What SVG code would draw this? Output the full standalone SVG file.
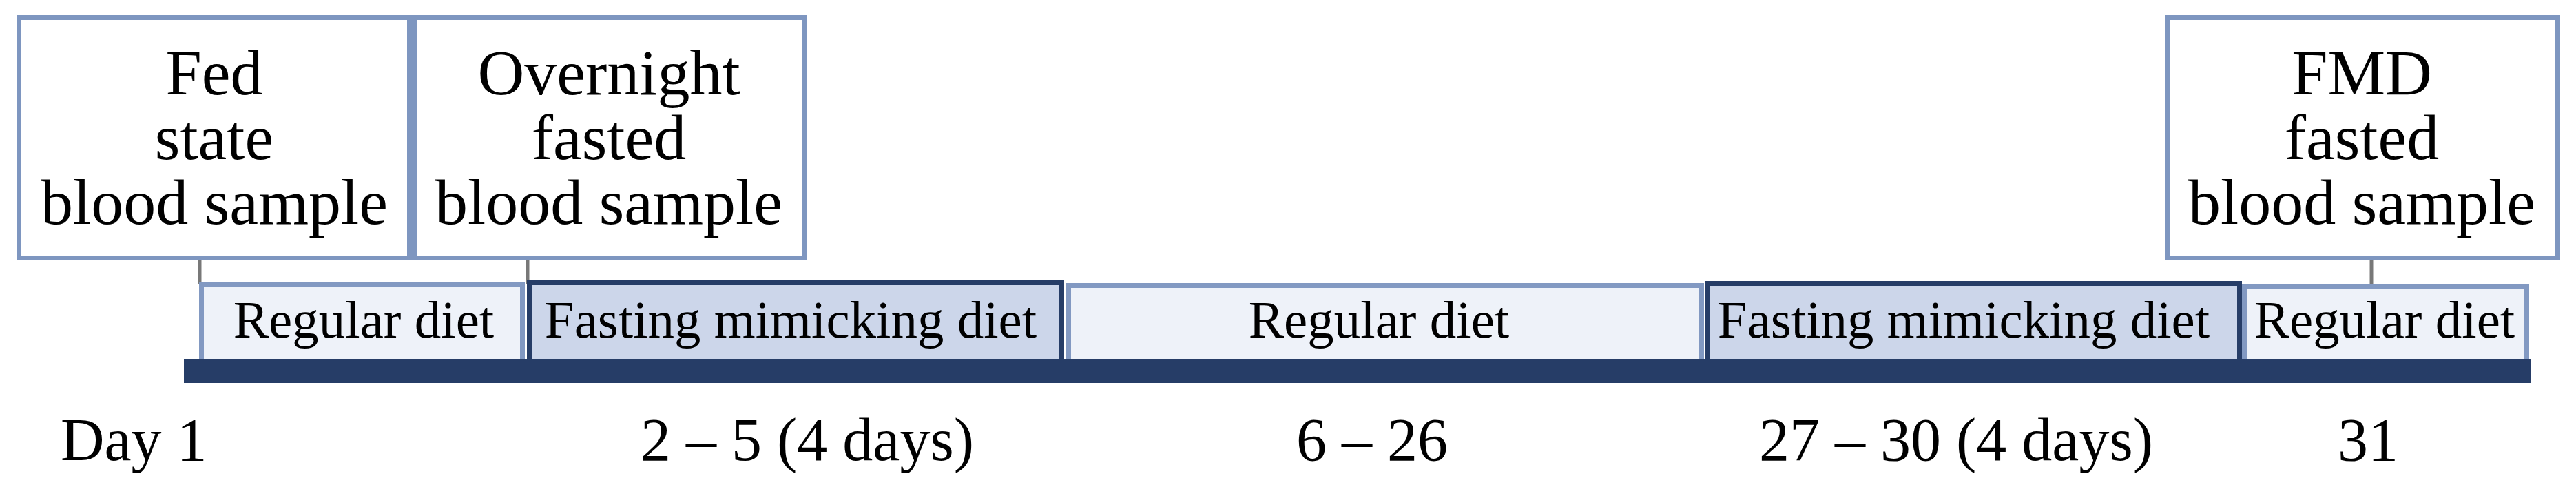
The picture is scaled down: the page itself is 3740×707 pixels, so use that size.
<svg xmlns="http://www.w3.org/2000/svg" width="3740" height="707" viewBox="0 0 3740 707">
<style>
.sample{fill:#ffffff;stroke:#7e96c0;stroke-width:7}
.reg{fill:#eef2f9;stroke:#8299c2;stroke-width:7}
.fmd{fill:#ccd6ea;stroke:#263d67;stroke-width:7}
.conn{stroke:#787878;stroke-width:5;fill:none}
text{font-family:"Liberation Serif","Times New Roman",serif;fill:#000000;text-anchor:middle}
.big{font-size:94px}
.lbl{font-size:77px}
.day{font-size:88px}
</style>
<rect width="3740" height="707" fill="#ffffff"/>
<g id="connectors">
<line class="conn" x1="290" y1="378" x2="290" y2="412"/>
<line class="conn" x1="766" y1="378" x2="766" y2="412"/>
<line class="conn" x1="3443" y1="378" x2="3443" y2="414"/>
</g>
<g id="fed-sample">
<rect class="sample" x="27.5" y="25.5" width="567" height="349"/>
<text class="big" x="311" y="137">Fed</text>
<text class="big" x="311" y="231">state</text>
<text class="big" x="311" y="325">blood sample</text>
</g>
<g id="overnight-sample">
<rect class="sample" x="601.5" y="25.5" width="566" height="349"/>
<text class="big" x="884" y="137">Overnight</text>
<text class="big" x="884" y="231">fasted</text>
<text class="big" x="884" y="325">blood sample</text>
</g>
<g id="fmd-sample">
<rect class="sample" x="3147.5" y="25.5" width="566" height="349"/>
<text class="big" x="3429" y="137">FMD</text>
<text class="big" x="3429" y="231">fasted</text>
<text class="big" x="3429" y="325">blood sample</text>
</g>
<g id="regular-1">
<rect class="reg" x="292.5" y="412.5" width="466" height="112"/>
<text class="lbl" x="528" y="490">Regular diet</text>
</g>
<g id="fmd-1">
<rect class="fmd" x="768.5" y="410.5" width="773" height="114"/>
<text class="lbl" x="1148" y="490">Fasting mimicking diet</text>
</g>
<g id="regular-2">
<rect class="reg" x="1551.5" y="414.5" width="919" height="110"/>
<text class="lbl" x="2002" y="490">Regular diet</text>
</g>
<g id="fmd-2">
<rect class="fmd" x="2478.5" y="411.5" width="773" height="113"/>
<text class="lbl" x="2851" y="490">Fasting mimicking diet</text>
</g>
<g id="regular-3">
<rect class="reg" x="3258.5" y="415.5" width="410" height="109"/>
<text class="lbl" x="3462" y="490">Regular diet</text>
</g>
<g id="timeline">
<rect x="267" y="521" width="3407" height="35" fill="#263d67"/>
</g>
<g id="day-labels">
<text class="day" x="88" y="668" style="text-anchor:start">Day 1</text>
<text class="day" x="1172" y="668">2 – 5 (4 days)</text>
<text class="day" x="1992" y="668">6 – 26</text>
<text class="day" x="2840" y="668">27 – 30 (4 days)</text>
<text class="day" x="3438" y="668">31</text>
</g>
</svg>
